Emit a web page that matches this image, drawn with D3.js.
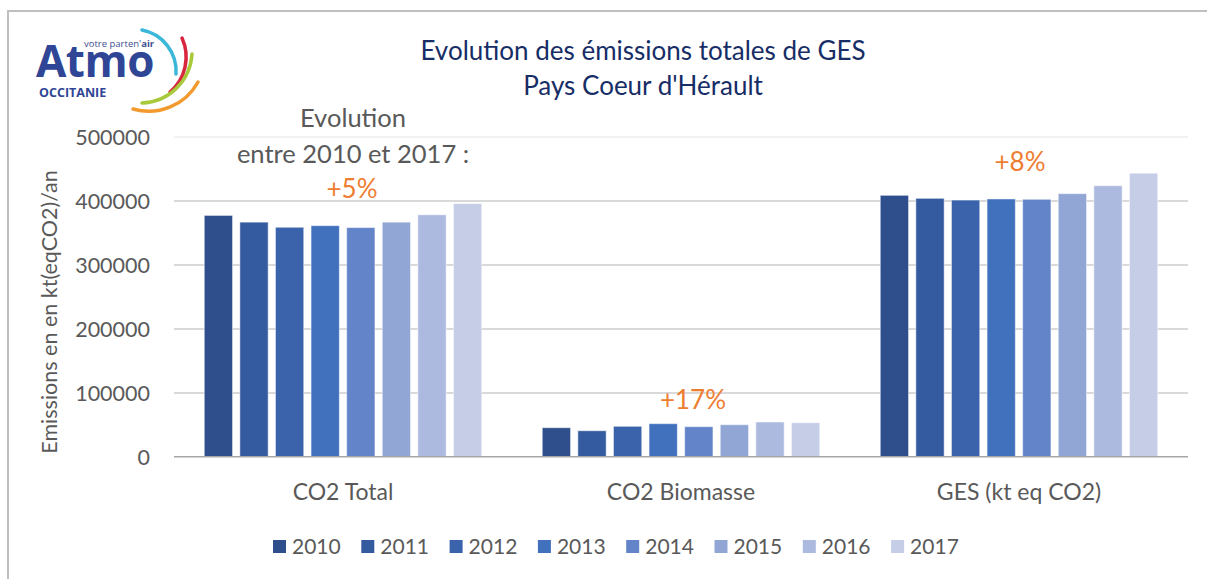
<!DOCTYPE html>
<meta charset="utf-8">
<style>
body { margin: 0; background: #fff; }
.grid line { stroke: #d9d9d9; stroke-width: 1.5; shape-rendering: crispEdges; }
.grid path { stroke-width: 0; }
.axis text { font: 21.5px Lato, sans-serif; fill: #595959; }
.cat { font: 23px Lato, sans-serif; fill: #595959; }
.legend text { font: 21px Lato, sans-serif; fill: #595959; }
.title { font: 26px Lato, sans-serif; fill: #172d66; }
.note { font: 25.5px Lato, sans-serif; fill: #595959; }
.pct { font: 26px Lato, sans-serif; fill: #ed7d31; }
</style>
<body>
<script src="https://cdn.jsdelivr.net/npm/d3@7"></script>
<script>

var categories = ["CO2 Total", "CO2 Biomasse", "GES (kt eq CO2)"];
var years = ["2010", "2011", "2012", "2013", "2014", "2015", "2016", "2017"];
var co2Total = [377000, 366500, 358500, 361000, 358000, 366500, 378000, 395500];
var co2Biomasse = [45300, 40600, 47500, 51600, 46900, 50000, 54200, 53100];
var ges = [408400, 403700, 401000, 402700, 402200, 411000, 423400, 443000];
var yTicks = [0, 100000, 200000, 300000, 400000, 500000];
var evolution = ["+5%", "+17%", "+8%"];
var colors = ["#2e4f8b", "#345a9f", "#3a63ab", "#4170bd", "#6384c8", "#91a6d4", "#adbadf", "#c6cde6"];

var series = [co2Total, co2Biomasse, ges];

var W = 1207, H = 579;
var svg = d3.select("body").append("svg")
    .attr("width", W)
    .attr("height", H);

// frame (top and left edges only are visible)
svg.append("line").attr("x1", 8).attr("x2", W).attr("y1", 11).attr("y2", 11)
    .attr("stroke", "#bfbfbf").attr("stroke-width", 2);
svg.append("line").attr("x1", 8).attr("x2", 8).attr("y1", 10).attr("y2", H)
    .attr("stroke", "#bfbfbf").attr("stroke-width", 2);

// scales
var x0 = d3.scaleBand().domain(categories).range([174, 1188]);
var x1 = d3.scaleBand().domain(years).range([0, x0.bandwidth()])
    .paddingInner(0.205).paddingOuter(0.85);
var y = d3.scaleLinear().domain([0, 500000]).range([456.7, 136.7]);
var color = d3.scaleOrdinal().domain(years).range(colors);

// gridlines
svg.append("g")
    .attr("class", "grid")
    .attr("transform", "translate(174,0)")
    .call(d3.axisLeft(y).tickValues(yTicks.slice(1)).tickSize(-(1188 - 174)).tickFormat(""))
  .selectAll("line")
    .style("stroke", function(d) { return d == 500000 ? "#f2f2f2" : null; });

// y tick labels
var yAxis = svg.append("g")
    .attr("class", "axis")
    .attr("transform", "translate(174,0)")
    .call(d3.axisLeft(y).tickValues(yTicks).tickSize(0).tickPadding(24).tickFormat(d3.format("d")));
yAxis.select(".domain").remove();
yAxis.selectAll("text").attr("dy", "0.36em");

// bars
var groups = svg.selectAll(".grp")
    .data(categories)
  .enter().append("g")
    .attr("class", "grp")
    .attr("transform", function(d) { return "translate(" + x0(d) + ",0)"; });

groups.selectAll("rect")
    .data(function(d, i) { return years.map(function(yr, j) { return {year: yr, value: series[i][j]}; }); })
  .enter().append("rect")
    .attr("x", function(d) { return x1(d.year); })
    .attr("y", function(d) { return y(d.value); })
    .attr("width", x1.bandwidth())
    .attr("height", function(d) { return y(0) - y(d.value); })
    .attr("fill", function(d) { return color(d.year); })
    .attr("stroke", "#fff")
    .attr("stroke-opacity", 0.5)
    .attr("stroke-width", 1);

// baseline
svg.append("line")
    .attr("x1", 174).attr("x2", 1188)
    .attr("y1", y(0)).attr("y2", y(0))
    .attr("stroke", "#a6a6a6").attr("stroke-width", 1.5);

// category labels
svg.selectAll(".cat")
    .data(categories)
  .enter().append("text")
    .attr("class", "cat")
    .attr("x", function(d) { return x0(d) + x0.bandwidth() / 2; })
    .attr("y", 500)
    .attr("text-anchor", "middle")
    .text(function(d) { return d; });

// evolution labels, nudged as in the original
var pctDx = [9, 12, 1], pctDy = [-6, -13, -2];
svg.selectAll(".pct")
    .data(evolution)
  .enter().append("text")
    .attr("class", "pct")
    .attr("x", function(d, i) { return x0(categories[i]) + x0.bandwidth() / 2 + pctDx[i]; })
    .attr("y", function(d, i) { return y(d3.max(series[i])) + pctDy[i]; })
    .attr("text-anchor", "middle")
    .text(function(d) { return d; });

svg.append("text").attr("class", "note")
    .attr("x", 353).attr("y", 127).attr("text-anchor", "middle")
    .text("Evolution");
svg.append("text").attr("class", "note")
    .attr("x", 353).attr("y", 163).attr("text-anchor", "middle")
    .text("entre 2010 et 2017 :");

// y axis title
svg.append("text")
    .attr("transform", "translate(57,312) rotate(-90)")
    .attr("text-anchor", "middle")
    .style("font", "21.5px Lato, sans-serif")
    .style("fill", "#595959")
    .text("Emissions en en kt(eqCO2)/an");

// title
svg.append("text").attr("class", "title")
    .attr("x", 643).attr("y", 60).attr("text-anchor", "middle")
    .text("Evolution des émissions totales de GES");
svg.append("text").attr("class", "title")
    .attr("x", 643).attr("y", 95).attr("text-anchor", "middle")
    .text("Pays Coeur d'Hérault");

// legend
var legend = svg.append("g")
    .attr("class", "legend")
  .selectAll("g")
    .data(years)
  .enter().append("g")
    .attr("transform", function(d, i) { return "translate(" + (273 + i * 88.3) + ",540)"; });

legend.append("rect")
    .attr("width", 13)
    .attr("height", 13)
    .attr("fill", color);

legend.append("text")
    .attr("x", 19)
    .attr("y", 14)
    .text(function(d) { return d; });

// logo
var logo = svg.append("g");
logo.append("text")
    .attr("x", 36).attr("y", 77)
    .attr("font-family", "'Open Sans', sans-serif")
    .attr("font-weight", 700)
    .attr("font-size", 44)
    .attr("letter-spacing", -0.5)
    .attr("fill", "#2f4596")
    .text("Atmo");
logo.append("text")
    .attr("x", 84).attr("y", 47)
    .attr("font-family", "'Open Sans', sans-serif")
    .attr("font-size", 9.5)
    .attr("fill", "#3d4f8f")
    .text("votre parten'")
  .append("tspan")
    .attr("font-weight", 700)
    .text("air");
logo.append("text")
    .attr("x", 39).attr("y", 97)
    .attr("font-family", "'Open Sans', sans-serif")
    .attr("font-weight", 700)
    .attr("font-size", 12.5)
    .attr("fill", "#2f4596")
    .text("OCCITANIE");

var arcs = [
  {d: "M142,30 A42,42 0 0 1 176,74", c: "#3bb7d9"},
  {d: "M182,38 A46,46 0 0 1 170,92", c: "#d7263d"},
  {d: "M192,54 A52,52 0 0 1 142,103", c: "#a8c93a"},
  {d: "M198,82 A56,56 0 0 1 133,109", c: "#f29a2e"}
];
logo.selectAll("path")
    .data(arcs)
  .enter().append("path")
    .attr("d", function(d) { return d.d; })
    .attr("fill", "none")
    .attr("stroke", function(d) { return d.c; })
    .attr("stroke-width", 3.5)
    .attr("stroke-linecap", "round");
</script>
</body>
